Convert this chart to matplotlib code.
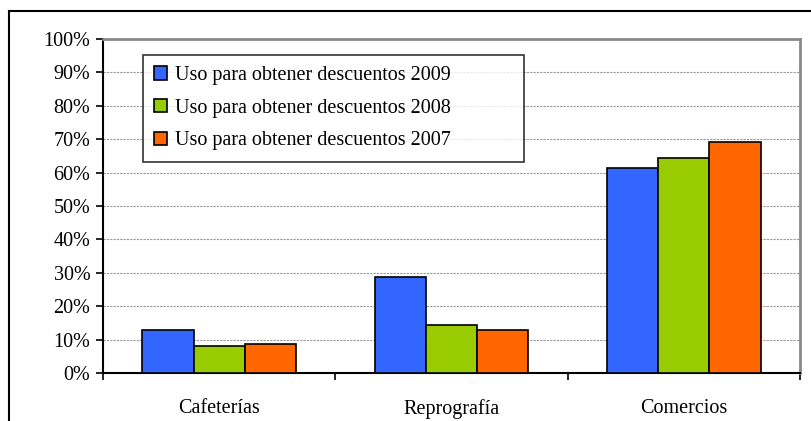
import numpy as np
import matplotlib.pyplot as plt
from matplotlib.lines import Line2D
from matplotlib.ticker import MultipleLocator, FuncFormatter

categories = ["Cafeterías", "Reprografía", "Comercios"]
series_labels = ["Uso para obtener descuentos 2009",
                 "Uso para obtener descuentos 2008",
                 "Uso para obtener descuentos 2007"]
values_2009 = [13, 28.7, 61.5]
values_2008 = [8, 14.3, 64.5]
values_2007 = [8.7, 13, 69.2]
colors = ["#3366ff", "#99cc00", "#ff6600"]

plt.rcParams["font.family"] = ["Liberation Serif", "DejaVu Serif"]

fig = plt.figure(figsize=(8.12, 4.21), dpi=100)
ax = fig.add_axes([103 / 812, 1 - 373 / 421, 697 / 812, 334 / 421])

# outer frame (only top and left edges visible)
fig.add_artist(Line2D([9 / 812, 812 / 812], [1 - 11 / 421] * 2, color="black", lw=1.5))
fig.add_artist(Line2D([9 / 812] * 2, [0, 1 - 11 / 421], color="black", lw=1.5))

x = np.arange(len(categories))
w = 0.22
for i, (vals, lab) in enumerate(zip([values_2009, values_2008, values_2007], series_labels)):
    ax.bar(x + (i - 1) * w, vals, w, color=colors[i], edgecolor="black",
           linewidth=1.2, label=lab, zorder=3)

ax.set_xlim(-0.5, 2.5)
ax.set_ylim(0, 100)
ax.yaxis.set_major_locator(MultipleLocator(10))
ax.yaxis.set_major_formatter(FuncFormatter(lambda v, p: f"{v:.0f}%"))
ax.grid(axis="y", color="#999999", linestyle=(0, (2, 1)), linewidth=0.8, zorder=0)

ax.set_xticks(x)
ax.set_xticklabels(categories, fontsize=14.5)
ax.tick_params(axis="x", length=0, pad=19)
ax.set_xticks([-0.5, 0.5, 1.5, 2.5], minor=True)
ax.tick_params(axis="x", which="minor", length=5, width=1.2, direction="out")
ax.tick_params(axis="y", length=5, width=1.2, direction="out", labelsize=14.5, pad=4)

ax.spines["left"].set_linewidth(1.5)
ax.spines["bottom"].set_linewidth(1.5)
ax.spines["top"].set_color("#888888")
ax.spines["top"].set_linewidth(2)
ax.spines["right"].set_color("#888888")
ax.spines["right"].set_linewidth(2)

leg = ax.legend(loc="upper left",
                bbox_to_anchor=(40 / 697, 1 - 16 / 334, 381 / 697, 0),
                mode="expand", fontsize=14.5, frameon=True, fancybox=False,
                borderpad=0.55, handlelength=0.65, handleheight=0.65,
                handletextpad=0.4, labelspacing=0.68, borderaxespad=0)
leg.get_frame().set_edgecolor("black")
leg.get_frame().set_linewidth(1.2)
leg.set_zorder(5)

fig.savefig("out.png", dpi=100)
